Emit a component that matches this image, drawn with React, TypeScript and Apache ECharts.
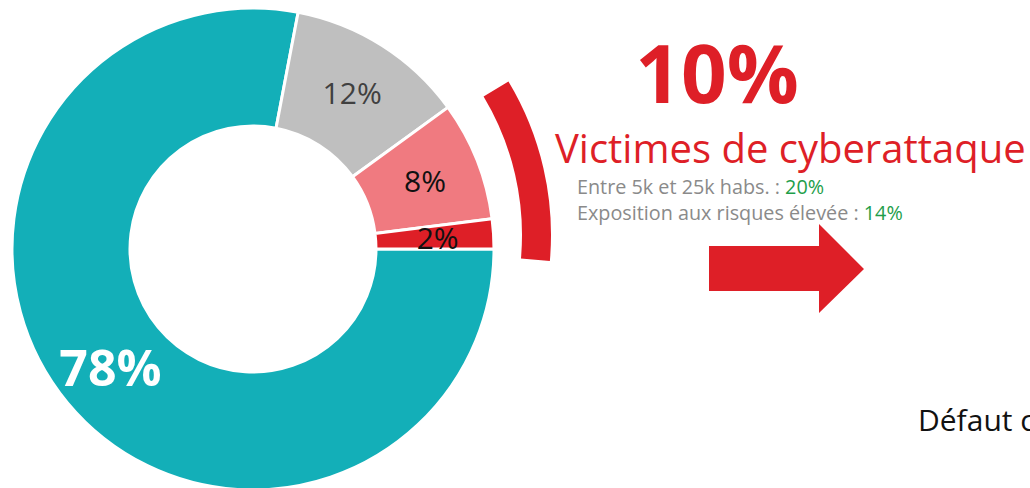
import React, { useEffect, useRef } from "react";
import * as echarts from "echarts";

const sliceNames = ["Non victimes", "Ne sait pas", "Victimes (exposées)", "Victimes (autres)"];
const sliceValues = [78, 12, 8, 2];
const sliceColors = ["#13AFB8", "#BFBFBF", "#F07A80", "#DE1F27"];
const labelColors = ["#FFFFFF", "#404040", "#111111", "#111111"];
const labelSizes = [50, 30, 30, 30];
const labelWeights = ["bold", "normal", "normal", "normal"];

const arcNames = ["Victimes de cyberattaque", "Autres"];
const arcValues = [10, 90];

const headline = "10%";
const headlineLabel = "Victimes de cyberattaque";
const details = [
  { label: "Entre 5k et 25k habs. : ", value: "20%" },
  { label: "Exposition aux risques élevée : ", value: "14%" },
];
const footerText = "Défaut c";

const FONT = "'Open Sans', 'Noto Sans', sans-serif";
const RED = "#DE1F27";

export default function App() {
  const ref = useRef<HTMLDivElement>(null);

  useEffect(() => {
    if (!ref.current) return;
    const chart = echarts.init(ref.current, undefined, { renderer: "svg" });

    const pieData = sliceValues.map((v, i) => ({
      name: sliceNames[i],
      value: v,
      itemStyle: { color: sliceColors[i] },
      label: {
        color: labelColors[i],
        fontSize: labelSizes[i],
        fontWeight: labelWeights[i] as any,
      },
    }));

    const arcData = arcValues.map((v, i) => ({
      name: arcNames[i],
      value: v,
      itemStyle: { color: i === 0 ? RED : "rgba(0,0,0,0)" },
    }));

    const detailTexts = details.map((d, i) => ({
      type: "text",
      style: {
        x: 577,
        y: 186 + i * 26,
        text: `{g|${d.label}}{v|${d.value}}`,
        textVerticalAlign: "middle",
        rich: {
          g: { fill: "#8A8A8A", fontSize: 19.8, fontFamily: FONT },
          v: { fill: "#1E9E4A", fontSize: 19.8, fontFamily: FONT },
        },
      },
    }));

    chart.setOption({
      animation: false,
      series: [
        {
          type: "pie",
          center: [253, 249],
          radius: [123, 241],
          startAngle: 0,
          clockwise: true,
          avoidLabelOverlap: false,
          silent: true,
          itemStyle: { borderColor: "#FFFFFF", borderWidth: 3 },
          label: {
            show: true,
            position: "inside",
            formatter: "{c}%",
            fontFamily: FONT,
          },
          labelLine: { show: false },
          emphasis: { disabled: true },
          data: pieData,
        },
        {
          type: "pie",
          center: [253, 235],
          radius: [269, 298],
          startAngle: 31,
          clockwise: true,
          silent: true,
          label: { show: false },
          labelLine: { show: false },
          emphasis: { disabled: true },
          data: arcData,
        },
      ],
      graphic: [
        {
          type: "text",
          style: {
            x: 717,
            y: 71,
            text: headline,
            fill: RED,
            font: `bold 80px ${FONT}`,
            textAlign: "center",
            textVerticalAlign: "middle",
          },
        },
        {
          type: "text",
          style: {
            x: 555,
            y: 147,
            text: headlineLabel,
            fill: RED,
            font: `40px ${FONT}`,
            textAlign: "left",
            textVerticalAlign: "middle",
          },
        },
        ...detailTexts,
        {
          type: "polygon",
          shape: {
            points: [
              [709, 246],
              [819, 246],
              [819, 224],
              [864, 269],
              [819, 313],
              [819, 291],
              [709, 291],
            ],
          },
          style: { fill: RED },
        },
        {
          type: "text",
          style: {
            x: 918,
            y: 419,
            text: footerText,
            fill: "#111111",
            font: `30px ${FONT}`,
            textAlign: "left",
            textVerticalAlign: "middle",
          },
        },
      ],
    });

    return () => chart.dispose();
  }, []);

  return (
    <div
      ref={ref}
      style={{ position: "fixed", left: 0, top: 0, width: 1030, height: 488, background: "#FFFFFF" }}
    />
  );
}
